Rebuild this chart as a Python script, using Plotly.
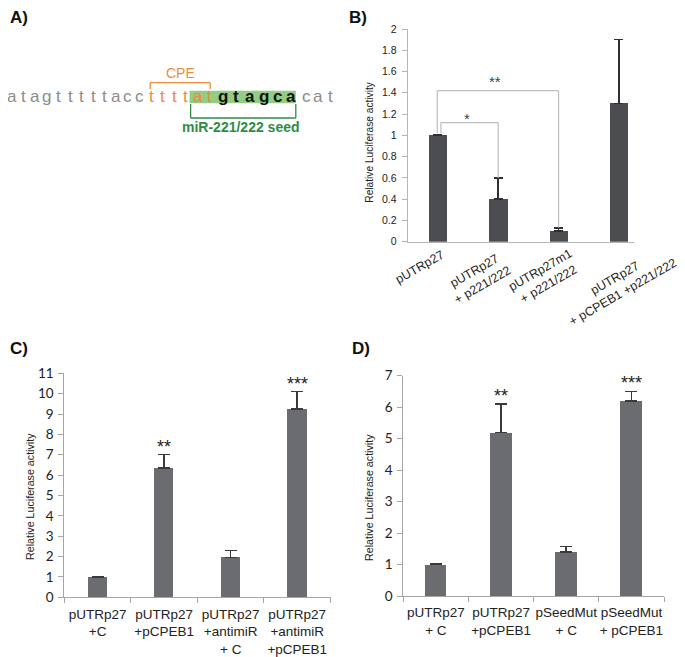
import plotly.graph_objects as go

W, H = 685, 657
OFF = 8  # page body margin in the browser


def X(px):
    return (px - OFF) / W


def Y(py):
    return 1 - (py - OFF) / H


# ---------------- data ----------------
# Panel A: sequence and per-letter style (g=gray, o=orange, b=black bold)
seq_letters = list("atagtttttaccttttatgtagcacat")
seq_styles = ["g"] * 12 + ["o"] * 6 + ["b"] * 6 + ["g"] * 3
cpe_span = (12, 17)      # letters covered by the CPE bracket
seed_span = (16, 23)     # letters covered by the seed highlight
cpe_label = "CPE"
seed_label = "miR-221/222 seed"

# Panel B
b_cats = ["pUTRp27", "pUTRp27<br>+ p221/222", "pUTRp27m1<br>+ p221/222",
          "pUTRp27<br>+ pCPEB1 +p221/222"]
b_vals = [1.0, 0.4, 0.1, 1.3]
b_err = [0.01, 0.2, 0.03, 0.6]
# (from bar, to bar, bracket height, label, label height)
b_sig = [(0, 1, 1.12, "*", 1.19), (0, 2, 1.42, "**", 1.53)]

# Panel C
c_cats = ["pUTRp27<br>+C", "pUTRp27<br>+pCPEB1", "pUTRp27<br>+antimiR<br>+ C",
          "pUTRp27<br>+antimiR<br>+pCPEB1"]
c_vals = [1.0, 6.35, 1.95, 9.25]
c_err = [0.02, 0.65, 0.35, 0.85]
c_stars = ["", "**", "", "***"]

# Panel D
d_cats = ["pUTRp27<br>+ C", "pUTRp27<br>+pCPEB1", "pSeedMut<br>+ C",
          "pSeedMut<br>+ pCPEB1"]
d_vals = [1.0, 5.2, 1.4, 6.2]
d_err = [0.01, 0.9, 0.17, 0.3]
d_stars = ["", "**", "", "***"]

y_title = "Relative Luciferase activity"
panel_labels = ["A)", "B)", "C)", "D)"]

# ---------------- styling ----------------
ARIAL = "Liberation Sans, Arial, sans-serif"
CAL = "Lato, Liberation Sans, sans-serif"
GRAY_LET = "#8c8c8c"
ORANGE = "#EE8A3E"
GREEN_BOX = "#94CC86"
GREEN_TXT = "#2E8B45"
# rotated B category label placement: (x shift in px from category, label centre y px)
B_LABEL_PLACE = [(-18, 267), (-20, 278), (-14, 277), (0, 285)]

fig = go.Figure()


def add_bars(cats, vals, errs, xa, ya, color, ecolor, width, ewidth, thick):
    fig.add_trace(go.Bar(
        x=cats, y=vals, xaxis=xa, yaxis=ya, width=width,
        marker=dict(color=color, line=dict(width=0)),
        error_y=dict(type="data", array=errs, arrayminus=[0] * len(errs),
                     symmetric=False, color=ecolor, thickness=thick, width=ewidth),
        showlegend=False, hoverinfo="skip"))


add_bars(b_cats, b_vals, b_err, "x", "y", "#4C4D51", "#2f2f2f", 0.3, 4.5, 1.5)
add_bars(c_cats, c_vals, c_err, "x2", "y2", "#6B6C70", "#3a3a3a", 0.29, 6, 1.5)
add_bars(d_cats, d_vals, d_err, "x3", "y3", "#6B6C70", "#3a3a3a", 0.33, 6, 1.5)

shapes = []
annotations = []

# ---- rotated category labels in B ----
for i, (cat, (dx, yp)) in enumerate(zip(b_cats, B_LABEL_PLACE)):
    annotations.append(dict(xref="x", yref="paper", x=i, y=Y(yp), xshift=dx, text=cat,
                            textangle=-30, showarrow=False, xanchor="center",
                            yanchor="middle", align="center",
                            font=dict(family=ARIAL, size=12.5, color="#222")))

# ---- significance brackets in B ----
for k, (i, j, h, lab, ly) in enumerate(b_sig):
    xi = i + (0.05 if k == 0 else -0.01)
    yi = b_vals[i] + b_err[i] + 0.01
    yj = b_vals[j] + b_err[j]
    for (x0, y0, x1, y1) in [(xi, yi, xi, h), (xi, h, j, h), (j, h, j, yj)]:
        shapes.append(dict(type="line", xref="x", yref="y", x0=x0, y0=y0, x1=x1, y1=y1,
                           line=dict(color="#bdbdbd", width=1.2)))
    annotations.append(dict(xref="x", yref="y", x=(xi + j) / 2 - 0.05, y=ly, text=lab,
                            showarrow=False, yanchor="middle", yshift=-3,
                            font=dict(family=ARIAL, size=15, color="#444444")))

# ---- stars in C and D ----
for stars, vals, errs, xa, ya in [(c_stars, c_vals, c_err, "x2", "y2"),
                                  (d_stars, d_vals, d_err, "x3", "y3")]:
    for i, s in enumerate(stars):
        if s:
            annotations.append(dict(xref=xa, yref=ya, x=i, y=vals[i] + errs[i], text=s,
                                    showarrow=False, yanchor="middle", yshift=8,
                                    font=dict(family=ARIAL, size=18, color="#222")))

# ---- y axis titles ----
for (xp, yp, fs) in [(370, 141.7, 10.2), (30, 497, 10.7), (369, 497, 10.7)]:
    annotations.append(dict(xref="paper", yref="paper", x=X(xp), y=Y(yp), text=y_title,
                            textangle=-90, showarrow=False, xanchor="center", yanchor="middle",
                            font=dict(family=ARIAL, size=fs, color="#222")))

# ---- panel labels ----
for lab, (xp, yp) in zip(panel_labels, [(8, 17), (347, 17), (8, 348), (350, 348)]):
    annotations.append(dict(xref="paper", yref="paper", x=X(xp), y=Y(yp), text="<b>%s</b>" % lab,
                            showarrow=False, xanchor="left", yanchor="middle",
                            font=dict(family=ARIAL, size=17, color="#111")))

# ---- Panel A sequence ----
pos = [12.0]
for i in range(1, len(seq_letters)):
    prev_b = seq_styles[i - 1] == "b"
    cur_b = seq_styles[i] == "b"
    if prev_b and not cur_b:
        adv = 16.0
    elif prev_b or cur_b:
        adv = 13.6
    else:
        adv = 11.6
    pos.append(pos[-1] + adv)

box_l = pos[seed_span[0]] - 8
box_r = pos[seed_span[1]] + 5
shapes.append(dict(type="rect", xref="paper", yref="paper", x0=X(box_l), x1=X(box_r),
                   y0=Y(103.3), y1=Y(90.7), fillcolor=GREEN_BOX, line=dict(width=0),
                   layer="below"))

for ch, st, xp in zip(seq_letters, seq_styles, pos):
    if st == "g":
        txt, col = ch, GRAY_LET
    elif st == "o":
        txt, col = ch, ORANGE
    else:
        txt, col = "<b>%s</b>" % ch, "#111"
    annotations.append(dict(xref="paper", yref="paper", x=X(xp), y=Y(96), text=txt,
                            showarrow=False, xanchor="center", yanchor="middle",
                            font=dict(family=ARIAL, size=17, color=col)))

# CPE bracket
cx0, cx1 = pos[cpe_span[0]] - 1, pos[cpe_span[1]] + 1
for (x0, y0, x1, y1) in [(cx0, 89, cx0, 82.7), (cx0, 82.7, cx1, 82.7), (cx1, 82.7, cx1, 89)]:
    shapes.append(dict(type="line", xref="paper", yref="paper", x0=X(x0), y0=Y(y0),
                       x1=X(x1), y1=Y(y1), line=dict(color=ORANGE, width=1.3)))
annotations.append(dict(xref="paper", yref="paper", x=X((cx0 + cx1) / 2), y=Y(73), text=cpe_label,
                        showarrow=False, xanchor="center", yanchor="middle",
                        font=dict(family=ARIAL, size=14, color=ORANGE)))

# seed bracket
sx0, sx1 = box_l + 1, box_r
for (x0, y0, x1, y1) in [(sx0, 104, sx0, 118), (sx0, 118, sx1, 118), (sx1, 118, sx1, 104)]:
    shapes.append(dict(type="line", xref="paper", yref="paper", x0=X(x0), y0=Y(y0),
                       x1=X(x1), y1=Y(y1), line=dict(color=GREEN_TXT, width=1.3)))
annotations.append(dict(xref="paper", yref="paper", x=X((sx0 + sx1) / 2 - 2), y=Y(127),
                        text="<b>%s</b>" % seed_label,
                        showarrow=False, xanchor="center", yanchor="middle",
                        font=dict(family=ARIAL, size=14, color=GREEN_TXT)))

# ---- axes ----
common_y = dict(showgrid=False, zeroline=False, showline=True, ticks="outside",
                ticklen=5, tickwidth=1)
fig.update_layout(
    width=W, height=H, margin=dict(l=0, r=0, t=0, b=0, pad=0, autoexpand=False),
    paper_bgcolor="white", plot_bgcolor="white", bargap=0,
    xaxis=dict(domain=[X(407.7), X(634)], range=[-0.5, 3.25], anchor="y",
               showline=True, linecolor="#b5b5b5", ticks="", showgrid=False,
               showticklabels=False, categoryorder="array", categoryarray=b_cats),
    yaxis=dict(domain=[Y(241.7), Y(29)], range=[0, 2], dtick=0.2, anchor="x",
               linecolor="#b5b5b5", tickcolor="#b5b5b5", ticklabelstandoff=3,
               tickfont=dict(family=ARIAL, size=10.5, color="#222"), **common_y),
    xaxis2=dict(domain=[X(64.3), X(330.5)], range=[-0.5, 3.5], anchor="y2",
                showline=True, linecolor="#a5a5a5", ticks="outside", tickson="boundaries",
                ticklen=5, tickcolor="#a5a5a5", showgrid=False, tickangle=0,
                ticklabelstandoff=4, categoryorder="array", categoryarray=c_cats,
                tickfont=dict(family=ARIAL, size=13.5, color="#222")),
    yaxis2=dict(domain=[Y(597.3), Y(373.3)], range=[0, 11], dtick=1, anchor="x2",
                linecolor="#a5a5a5", tickcolor="#a5a5a5", ticklabelstandoff=2,
                tickfont=dict(family=CAL, size=13.5, color="#222"), **common_y),
    xaxis3=dict(domain=[X(403.3), X(664)], range=[-0.5, 3.5], anchor="y3",
                showline=True, linecolor="#a5a5a5", ticks="outside", tickson="boundaries",
                ticklen=5, tickcolor="#a5a5a5", showgrid=False, tickangle=0,
                ticklabelstandoff=4, categoryorder="array", categoryarray=d_cats,
                tickfont=dict(family=ARIAL, size=13.5, color="#222")),
    yaxis3=dict(domain=[Y(596), Y(375.7)], range=[0, 7], dtick=1, anchor="x3",
                linecolor="#a5a5a5", tickcolor="#a5a5a5", ticklabelstandoff=2,
                tickfont=dict(family=CAL, size=13.5, color="#222"), **common_y),
    shapes=shapes, annotations=annotations,
)

fig.write_html("out.html")
